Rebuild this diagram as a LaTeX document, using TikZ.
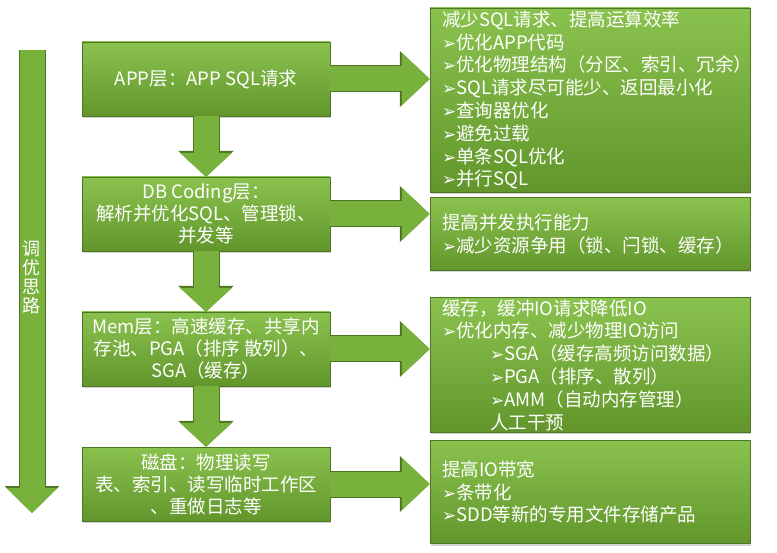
\documentclass[tikz,border=0pt]{standalone}
\usepackage{fontspec}
\setmainfont{Noto Sans CJK SC}
\newfontfamily\dingfont{DejaVu Sans}
\usetikzlibrary{arrows.meta,shadows}

\definecolor{leaflight}{RGB}{138,194,78}
\definecolor{leafmid}{RGB}{120,178,60}
\definecolor{leafdark}{RGB}{98,150,44}
\definecolor{leafedge}{RGB}{78,118,34}
\newcommand{\pick}{{\dingfont\fontsize{17}{17}\selectfont ➢}}

\begin{document}
\begin{tikzpicture}[x=1pt,y=-1pt,
    layerbox/.style={draw=leafedge, top color=leaflight, bottom color=leafdark,
      text=white, align=center, minimum width=248pt, minimum height=74pt,
      inner sep=0pt, font=\fontsize{18.5}{22}\selectfont,
      drop shadow={shadow xshift=1pt, shadow yshift=-2pt, opacity=0.35}},
    hintbox/.style={draw=leafedge, top color=leaflight, bottom color=leafdark,
      text=white, align=left, text width=296pt, inner xsep=12pt, inner ysep=0pt,
      font=\fontsize{18.5}{22.8}\selectfont,
      drop shadow={shadow xshift=1pt, shadow yshift=-2pt, opacity=0.35}},
    fatdown/.style={line width=25pt, leafmid, -{Triangle[width=51pt,length=24pt]}},
    fatdownedge/.style={line width=27pt, leafedge, -{Triangle[width=54pt,length=26pt]}},
    fatright/.style={line width=25pt, leafmid, -{Triangle[width=51pt,length=28pt]}},
    fatrightedge/.style={line width=27pt, leafedge, -{Triangle[width=54pt,length=30pt]}},
  ]
  \useasboundingbox (0,0) rectangle (777,553);

  % the layers
  \node[layerbox] (l1) at (206,79) {APP层：APP SQL请求};
  \node[layerbox] (l2) at (206,214) {DB Coding层：\\解析并优化SQL、管理锁、\\并发等};
  \node[layerbox] (l3) at (206,349) {Mem层：高速缓存、共享内\\存池、PGA（排序 散列）、\\SGA（缓存）};
  \node[layerbox] (l4) at (206,484) {磁盘：物理读写\\表、索引、读写临时工作区\\、重做日志等};

  % what to do on each layer
  \node[hintbox, minimum height=184pt] (r1) at (590,100) {减少SQL请求、提高运算效率\\
    \pick 优化APP代码\\
    \pick 优化物理结构（分区、索引、冗余）\\
    \pick SQL请求尽可能少、返回最小化\\
    \pick 查询器优化\\
    \pick 避免过载\\
    \pick 单条SQL优化\\
    \pick 并行SQL};
  \node[hintbox, minimum height=73pt] (r2) at (590,234) {提高并发执行能力\\
    \pick 减少资源争用（锁、闩锁、缓存）};
  \node[hintbox, minimum height=135pt] (r3) at (590,365) {缓存，缓冲IO请求降低IO\\
    \pick 优化内存、减少物理IO访问\\
    \hspace*{48pt}\pick SGA（缓存高频访问数据）\\
    \hspace*{48pt}\pick PGA（排序、散列）\\
    \hspace*{48pt}\pick AMM（自动内存管理）\\
    \hspace*{48pt}人工干预};
  \node[hintbox, minimum height=103pt] (r4) at (590,492) {提高IO带宽\\
    \pick 条带化\\
    \pick SDD等新的专用文件存储产品};

  % arrows down between the layers
  \foreach \a/\b in {l1/l2,l2/l3,l3/l4} {
    \draw[fatdownedge] (\a.south) -- (\b.north);
    \draw[fatdown] (\a.south) -- (\b.north);
  }
  % arrows to the hints
  \foreach \a/\b in {l1/r1,l2/r2,l3/r3,l4/r4} {
    \draw[fatrightedge] (\a.east) -- (\a.east -| \b.west);
    \draw[fatright] (\a.east) -- (\a.east -| \b.west);
  }

  % tuning direction
  \coordinate (ttop) at (32,50);
  \coordinate (tbot) at (32,513);
  \draw[line width=27pt, leafedge, -{Triangle[width=53pt,length=27pt]}] (ttop) -- (tbot);
  \draw[line width=25pt, leafmid, -{Triangle[width=50pt,length=25pt]}] (ttop) -- (tbot);
  \node[text=white, align=center, inner sep=0pt, font=\fontsize{18}{19}\selectfont] (tag) at (32,277) {调\\优\\思\\路};
\end{tikzpicture}
\end{document}
